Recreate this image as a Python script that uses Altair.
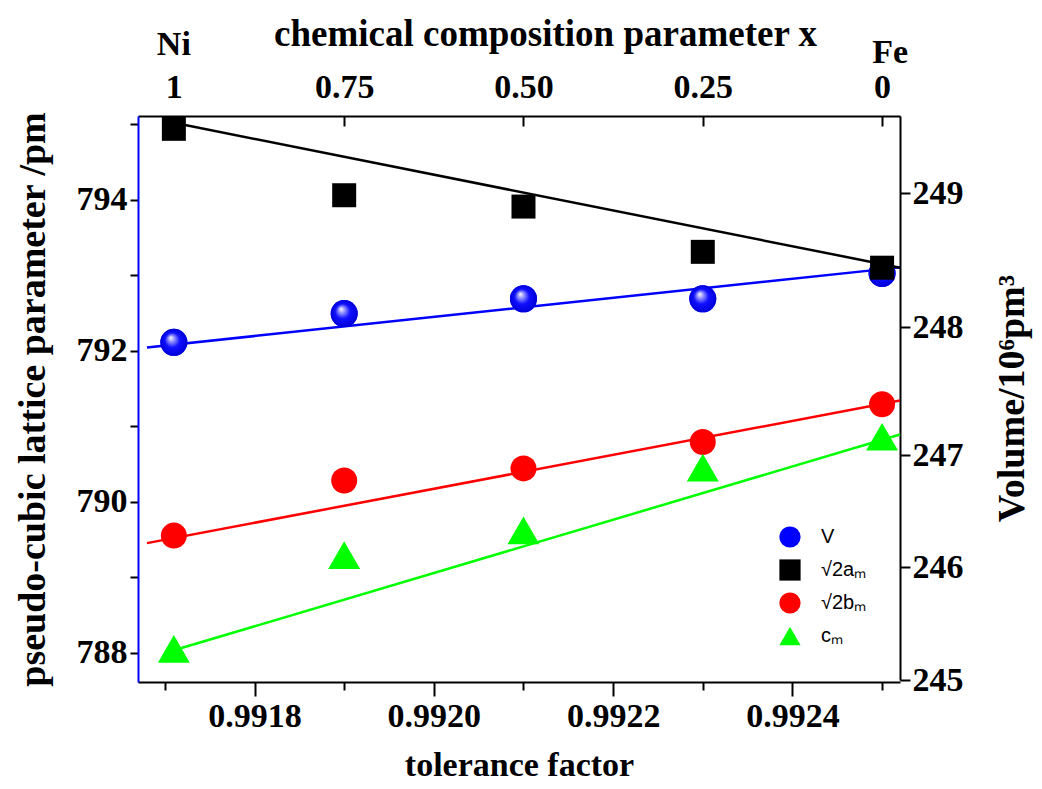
import altair as alt
import pandas as pd

# ---------------- data ----------------
tolerance = [0.99171, 0.99190, 0.99210, 0.99230, 0.99250]
composition_labels = ["1", "0.75", "0.50", "0.25", "0"]
end_members = ["Ni", "", "", "", "Fe"]

volume_V = [247.88, 248.10, 248.21, 248.21, 248.40]      # right axis, 10^6 pm^3
sqrt2_a_m = [794.94, 794.06, 793.91, 793.31, 793.10]     # left axis, pm
sqrt2_b_m = [789.55, 790.28, 790.44, 790.79, 791.29]
c_m = [788.05, 789.29, 789.62, 790.45, 790.86]

series_names = ["V", "√2aₘ", "√2bₘ", "cₘ"]
series_colors = ["#0000ff", "#000000", "#ff0000", "#00ff00"]
series_shapes = ["circle", "square", "circle", "triangle-up"]

# fitted straight lines (end points)
fit_V_t = [0.99168, 0.99252]
fit_V = [247.84, 248.445]
fit_a_t = [0.99171, 0.99252]
fit_a = [795.02, 793.10]
fit_b_t = [0.99168, 0.99252]
fit_b = [789.45, 791.34]
fit_c_t = [0.99171, 0.99252]
fit_c = [788.03, 790.89]

left_ticks = [788, 789, 790, 791, 792, 793, 794, 795]
right_ticks = [245, 246, 247, 248, 249]
bottom_ticks = [0.9917, 0.9918, 0.9919, 0.9920, 0.9921, 0.9922, 0.9923, 0.9924, 0.9925]

# ---------------- helpers ----------------
W, H = 762, 566
SERIF = "Liberation Serif"
SANS = "Liberation Sans"
LBL = 34

def series_df(xs, ys, name):
    return pd.DataFrame({"t": xs, "value": ys, "series": [name] * len(xs)})

def line_df(xs, ys):
    return pd.DataFrame({"t": xs, "value": ys})

x_scale = alt.Scale(domain=[0.99167, 0.99252], nice=False, zero=False)
y_left_scale = alt.Scale(domain=[787.61, 795.11], nice=False, zero=False)
y_right_scale = alt.Scale(domain=[245, 246, 247, 248, 249, 249.58],
                          range=[564, 451, 339, 211, 77, 0], nice=False, zero=False)

color_scale = alt.Scale(domain=series_names, range=series_colors)
shape_scale = alt.Scale(domain=series_names, range=series_shapes)

legend = alt.Legend(
    orient="none", legendX=641, legendY=410, title=None,
    labelFont=SANS, labelFontSize=20, labelColor="black",
    symbolSize=450, symbolStrokeWidth=0, symbolOpacity=1,
    rowPadding=11, labelOffset=20, padding=0,
)

bottom_axis = alt.Axis(
    orient="bottom", values=bottom_ticks, title="tolerance factor",
    labelExpr="round(datum.value*10000) % 2 == 0 ? format(datum.value, '.4f') : ''",
    labelFont=SERIF, labelFontWeight="bold", labelFontSize=LBL, labelColor="black",
    labelPadding=3, labelOverlap=False,
    titleFont=SERIF, titleFontWeight="bold", titleFontSize=34, titleColor="black",
    titlePadding=15,
    domainColor="black", domainWidth=2, tickColor="black", tickWidth=2,
    tickSize={"condition": {"test": "round(datum.value*10000) % 2 == 0", "value": 14}, "value": 8},
    grid=False,
)

left_axis = alt.Axis(
    orient="left", values=left_ticks, title="pseudo-cubic lattice parameter /pm",
    labelExpr="datum.value % 2 == 0 ? format(datum.value, 'd') : ''",
    labelFont=SERIF, labelFontWeight="bold", labelFontSize=LBL, labelColor="black",
    labelPadding=3, labelOverlap=False,
    titleFont=SERIF, titleFontWeight="bold", titleFontSize=38, titleColor="black",
    titlePadding=24,
    domainColor="#0000ff", domainWidth=2, tickColor="black", tickWidth=2, tickSize=8,
    grid=False,
)

right_axis = alt.Axis(
    orient="right", values=right_ticks, title="Volume/10⁶pm³", format="d",
    labelFont=SERIF, labelFontWeight="bold", labelFontSize=LBL, labelColor="black",
    labelPadding=2, labelOverlap=False,
    titleFont=SERIF, titleFontWeight="bold", titleFontSize=38, titleColor="black",
    titleAngle=270, titleBaseline="top", titlePadding=30,
    domainColor="black", domainWidth=2, tickColor="black", tickWidth=2, tickSize=10,
    grid=False,
)

top_labels_js = "[" + ",".join(f"'{c}'" for c in composition_labels) + "]"
top_axis = alt.Axis(
    orient="top", values=tolerance, title="chemical composition parameter x",
    labelExpr=f"{top_labels_js}[indexof({tolerance}, datum.value)]",
    labelFont=SERIF, labelFontWeight="bold", labelFontSize=LBL, labelColor="black",
    labelPadding=22, labelOverlap=False,
    titleFont=SERIF, titleFontWeight="bold", titleFontSize=37, titleColor="black",
    titlePadding=17, titleX=407, titleAlign="center",
    domainColor="black", domainWidth=2, tickColor="black", tickWidth=2,
    tickSize={"expr": "-10"},
    grid=False,
)

x_bottom = alt.X("t:Q", scale=x_scale, axis=bottom_axis)
x_none = alt.X("t:Q", scale=x_scale, axis=None)
y_left = alt.Y("value:Q", scale=y_left_scale, axis=left_axis)
y_right = alt.Y("value:Q", scale=y_right_scale, axis=right_axis)
color_enc = alt.Color("series:N", scale=color_scale, legend=legend)
shape_enc = alt.Shape("series:N", scale=shape_scale, legend=legend)

# ---------------- right axis (V) ----------------
v_df = series_df(tolerance, volume_V, "V")
line_V = alt.Chart(line_df(fit_V_t, fit_V)).mark_line(color="#0000ff", strokeWidth=2.5).encode(
    x=x_none, y=y_right)
pts_V = alt.Chart(v_df).mark_point(filled=True, opacity=1, size=729).encode(
    x=x_none, y=y_right, color=color_enc, shape=shape_enc)
sphere = {
    "gradient": "radial", "x1": 0.38, "y1": 0.32, "r1": 0.0,
    "x2": 0.5, "y2": 0.5, "r2": 0.5,
    "stops": [
        {"offset": 0.0, "color": "#ffffff"},
        {"offset": 0.22, "color": "#9a9aff"},
        {"offset": 0.55, "color": "#1010ff"},
        {"offset": 1.0, "color": "#0000d8"},
    ],
}
pts_V_grad = alt.Chart(v_df).mark_point(shape="circle", filled=True, opacity=1, size=729,
                                        fill=sphere).encode(x=x_none, y=y_right)
right_layers = alt.layer(line_V, pts_V, pts_V_grad)

# ---------------- left axis (lattice parameters) ----------------
line_a = alt.Chart(line_df(fit_a_t, fit_a)).mark_line(color="#000000", strokeWidth=2.5).encode(
    x=x_bottom, y=y_left)
line_b = alt.Chart(line_df(fit_b_t, fit_b)).mark_line(color="#ff0000", strokeWidth=2.5).encode(
    x=x_bottom, y=y_left)
line_c = alt.Chart(line_df(fit_c_t, fit_c)).mark_line(color="#00ff00", strokeWidth=2.5).encode(
    x=x_bottom, y=y_left)

pts_a = alt.Chart(series_df(tolerance, sqrt2_a_m, series_names[1])).mark_point(
    filled=True, opacity=1, size=576).encode(x=x_bottom, y=y_left, color=color_enc, shape=shape_enc)
pts_b = alt.Chart(series_df(tolerance, sqrt2_b_m, series_names[2])).mark_point(
    filled=True, opacity=1, size=676).encode(x=x_bottom, y=y_left, color=color_enc, shape=shape_enc)
pts_c = alt.Chart(series_df(tolerance, c_m, series_names[3])).mark_point(
    filled=True, opacity=1, size=1024).encode(x=x_bottom, y=y_left, color=color_enc, shape=shape_enc)

left_layers = alt.layer(line_a, line_b, line_c, pts_a, pts_b, pts_c)

# ---------------- top axis (composition) + end members ----------------
top_layer = alt.Chart(pd.DataFrame({"t": tolerance})).mark_point(opacity=0).encode(
    x=alt.X("t:Q", scale=x_scale, axis=top_axis))

end_df = pd.DataFrame({"t": tolerance, "label": end_members})
ni_text = alt.Chart(end_df.iloc[[0]]).mark_text(
    font=SERIF, fontWeight="bold", fontSize=LBL, color="black", baseline="middle", align="center"
).encode(x=x_none, y=alt.value(-71), text="label:N")
fe_text = alt.Chart(end_df.iloc[[4]]).mark_text(
    font=SERIF, fontWeight="bold", fontSize=LBL, color="black", baseline="middle", align="center",
    dx=8,
).encode(x=x_none, y=alt.value(-63), text="label:N")

chart = alt.layer(right_layers, left_layers, top_layer, ni_text, fe_text).resolve_scale(
    y="independent"
).resolve_axis(
    x="independent", y="independent"
).properties(
    width=W, height=H,
    autosize=alt.AutoSizeParams(type="none"),
    padding={"left": 130, "top": 108, "right": 134, "bottom": 99},
).configure_view(stroke=None).configure(background="white")

chart.save("out.html", embed_options={"renderer": "svg", "actions": False})
